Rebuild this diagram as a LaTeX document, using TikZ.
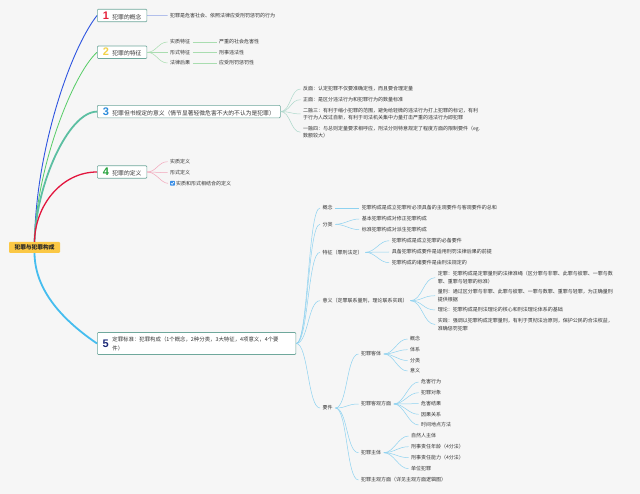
\documentclass[tikz,border=0pt]{standalone}
\usepackage{fontspec}
\newfontfamily\cjk{Noto Sans CJK SC}
\newfontfamily\numf{Liberation Sans}
\definecolor{bgc}{HTML}{F6F6F6}
\definecolor{txt}{HTML}{333333}
\definecolor{boxc}{HTML}{6FA89C}
\definecolor{rootc}{HTML}{FBC845}
\definecolor{b1}{HTML}{2F55E0}
\definecolor{b2}{HTML}{55CC66}
\definecolor{b3}{HTML}{5CBFA2}
\definecolor{b4}{HTML}{E2163E}
\definecolor{b5}{HTML}{45BDEF}
\definecolor{s1}{HTML}{8EA2E6}
\definecolor{s2}{HTML}{A9DDB0}
\definecolor{s3}{HTML}{ADD8CB}
\definecolor{s4}{HTML}{F2A5B9}
\definecolor{s5}{HTML}{8ED2F0}
\definecolor{k1}{HTML}{E6213B}
\definecolor{k2}{HTML}{F2D24A}
\definecolor{k3}{HTML}{2C8CDA}
\definecolor{k4}{HTML}{24A23A}
\definecolor{k5}{HTML}{1C2A78}
\definecolor{chk}{HTML}{3A8EE6}
\newcommand{\bignum}[2]{{\color{#1}\numf\bfseries\fontsize{11}{11}\selectfont #2}\hspace{3.5pt}}
\begin{document}
\begin{tikzpicture}[x=1pt,y=-1pt,
  mainbox/.style={draw=boxc, fill=white, rounded corners=1pt, line width=0.6pt, inner xsep=5.5pt, inner ysep=0pt, minimum height=12.5pt, anchor=west, text=txt, font=\cjk\fontsize{5.8}{7}\selectfont},
  numlab/.style={anchor=west, inner sep=0pt, font=\numf\bfseries\fontsize{11}{11}\selectfont},
  lf/.style={anchor=west, inner xsep=2.5pt, inner ysep=1pt, text=txt, align=left, font=\cjk\fontsize{5}{7.3}\selectfont},
  rootbox/.style={fill=rootc, rounded corners=1pt, minimum width=51pt, minimum height=11pt, inner sep=0pt, text=black!85, font=\cjk\bfseries\fontsize{5.7}{6}\selectfont},
  chkbox/.style={fill=chk, rounded corners=0.5pt, minimum width=4.6pt, minimum height=4.6pt, inner sep=0pt, anchor=west},
  m1/.style={draw=b1, line width=0.9pt},
  m2/.style={draw=b2, line width=0.8pt},
  m3/.style={draw=b3, line width=1.8pt},
  m4/.style={draw=b4, line width=1.3pt},
  m5/.style={draw=b5, line width=1.8pt},
  sub1/.style={draw=s1, line width=0.5pt},
  sub2/.style={draw=s2, line width=0.5pt},
  sub3/.style={draw=s3, line width=0.5pt},
  sub4/.style={draw=s4, line width=0.5pt},
  sub5/.style={draw=s5, line width=0.5pt},
  cv/.style={out=0, in=180, distance=#1},
  cv/.default=10pt
]
\fill[bgc] (0,0) rectangle (640,494);
\useasboundingbox (0,0) rectangle (640,494);

% root
\node[rootbox] (root) at (34.5,247.5) {犯罪与犯罪构成};

% main boxes
\node[mainbox] (n1) at (97,15.5) {\bignum{k1}{1}犯罪的概念};
\node[mainbox] (n2) at (97,52.3) {\bignum{k2}{2}犯罪的特征};
\node[mainbox] (n3) at (97,111.6) {\bignum{k3}{3}犯罪但书规定的意义（情节显著轻微危害不大的不认为是犯罪）};
\node[mainbox, minimum height=22pt] (n5) at (97,343.5) {\hspace{9.6pt}\parbox[c]{178pt}{\fontsize{5.4}{9}\selectfont\raggedright 定罪标准：犯罪构成（1个概念，2种分类，3大特征，4项意义，4个要\\件）}};
\node[numlab, text=k5] (n5num) at ([xshift=5.5pt]n5.west) {5};
\node[mainbox] (n4) at (97,172) {\bignum{k4}{4}犯罪的定义};

% main branches
\draw[m1] (root.north) .. controls (36,150) and (70,50) .. (n1.west);
\draw[m2] (root.north) .. controls (36,170) and (72,75) .. (n2.west);
\draw[m3] (root.north) .. controls (36,185) and (68,112) .. (n3.west);
\draw[m4] (root.north) .. controls (35,205) and (62,172) .. (n4.west);
\draw[m5] (root.south) .. controls (35,295) and (70,325) .. (n5.west);

% section 1
\node[lf] (t1) at (167.5,15.7) {犯罪是危害社会、依照法律应受刑罚惩罚的行为};
\draw[sub1] (n1.east) -- (t1.west);

% section 2
\node[lf] (t2a) at (167.5,42) {实质特征};
\node[lf] (t2b) at (167.5,52.3) {形式特征};
\node[lf] (t2c) at (167.5,63) {法律后果};
\node[lf] (t2a1) at (216.5,42) {严重的社会危害性};
\node[lf] (t2b1) at (216.5,52.3) {刑事违法性};
\node[lf] (t2c1) at (216.5,63) {应受刑罚惩罚性};
\foreach \c in {t2a,t2b,t2c} \draw[sub2] (n2.east) to[cv=9pt] (\c.west);
\draw[sub2] (t2a.east) -- (t2a1.west);
\draw[sub2] (t2b.east) -- (t2b1.west);
\draw[sub2] (t2c.east) -- (t2c1.west);

% section 3
\node[lf] (t3a) at (300.5,89) {反面：认定犯罪不仅要准确定性，而且要合理定量};
\node[lf] (t3b) at (300.5,99.7) {正面：是区分违法行为和犯罪行为的数量标准};
\node[lf] (t3c) at (300.5,113.9) {二融三：有利于缩小犯罪的范围，避免给轻微的违法行为打上犯罪的标记，有利\\于行为人改过自新，有利于司法机关集中力量打击严重的违法行为即犯罪};
\node[lf] (t3d) at (300.5,132.2) {一融四：与总则定量要求相呼应，刑法分则特意规定了程度方面的限制要件（eg.\\数额较大）};
\foreach \c in {t3a,t3b,t3c,t3d} \draw[sub3] (n3.east) to[cv=10pt] (\c.west);

% section 4
\node[lf] (t4a) at (167.5,161.7) {实质定义};
\node[lf] (t4b) at (167.5,172.7) {形式定义};
\node[chkbox] (t4x) at (170,183.3) {};
\draw[white, line width=0.6pt, line cap=round, line join=round] ([shift={(-1.4,0.1)}]t4x.center) -- ([shift={(-0.4,1.1)}]t4x.center) -- ([shift={(1.4,-1.2)}]t4x.center);
\node[lf, inner xsep=1pt] (t4c) at (t4x.east) {实质和形式相结合的定义};
\draw[sub4] (n4.east) to[cv=9pt] (t4a.west);
\draw[sub4] (n4.east) to[cv=9pt] (t4b.west);
\draw[sub4, shorten >=2pt] (n4.east) to[cv=9pt] (t4x.west);

% section 5, level 1
\node[lf] (t5a) at (320,208) {概念};
\node[lf] (t5b) at (320,224.3) {分类};
\node[lf] (t5c) at (320,252.3) {特征（罪刑法定）};
\node[lf] (t5d) at (320,300.7) {意义（定罪联系量刑，理论联系实践）};
\node[lf] (t5e) at (320,408) {要件};
\foreach \c in {t5a,t5b,t5c,t5d,t5e} \draw[sub5] (n5.east) to[cv=12pt] (\c.west);

% 概念
\node[lf] (t5a1) at (359.2,208) {犯罪构成是成立犯罪所必须具备的主观要件与客观要件的总和};
\draw[sub5] (t5a.east) -- (t5a1.west);

% 分类
\node[lf] (t5b1) at (359.2,219) {基本犯罪构成对修正犯罪构成};
\node[lf] (t5b2) at (359.2,229.7) {标准犯罪构成对派生犯罪构成};
\foreach \c in {t5b1,t5b2} \draw[sub5] (t5b.east) to[cv=9pt] (\c.west);

% 特征
\node[lf] (t5c1) at (389.2,240.7) {犯罪构成是成立犯罪的必备要件};
\node[lf] (t5c2) at (389.2,252) {具备犯罪构成要件是适用刑罚法律后果的前提};
\node[lf] (t5c3) at (389.2,262.7) {犯罪构成的诸要件是由刑法规定的};
\foreach \c in {t5c1,t5c2,t5c3} \draw[sub5] (t5c.east) to[cv=10pt] (\c.west);

% 意义
\node[lf] (t5d1) at (435.2,277.6) {定罪：犯罪构成是定罪量刑的法律准绳（区分罪与非罪、此罪与彼罪、一罪与数\\罪、重罪与轻罪的标准）};
\node[lf] (t5d2) at (435.2,295.7) {量刑：通过区分罪与非罪、此罪与彼罪、一罪与数罪、重罪与轻罪，为正确量刑\\提供根据};
\node[lf] (t5d3) at (435.2,310) {理论：犯罪构成是刑法理论的核心和刑法理论体系的基础};
\node[lf] (t5d4) at (435.2,324.5) {实践：强调以犯罪构成定罪量刑，有利于贯彻法治原则，保护公民的合法权益，\\准确惩罚犯罪};
\foreach \c in {t5d1,t5d2,t5d3,t5d4} \draw[sub5] (t5d.east) to[cv=12pt] (\c.west);

% 要件
\node[lf] (t5e1) at (358.5,354) {犯罪客体};
\node[lf] (t5e2) at (358.5,404) {犯罪客观方面};
\node[lf] (t5e3) at (358.5,452.7) {犯罪主体};
\node[lf] (t5e4) at (358.5,480) {犯罪主观方面（详见主观方面逻辑图）};
\foreach \c in {t5e1,t5e2,t5e3,t5e4} \draw[sub5] (t5e.east) to[cv=12pt] (\c.west);

% 犯罪客体
\node[lf] (k1a) at (407.5,339) {概念};
\node[lf] (k1b) at (407.5,349.7) {体系};
\node[lf] (k1c) at (407.5,360.5) {分类};
\node[lf] (k1d) at (407.5,371) {意义};
\foreach \c in {k1a,k1b,k1c,k1d} \draw[sub5] (t5e1.east) to[cv=10pt] (\c.west);

% 犯罪客观方面
\node[lf] (k2a) at (418.5,382) {危害行为};
\node[lf] (k2b) at (418.5,392.7) {犯罪对象};
\node[lf] (k2c) at (418.5,403.7) {危害结果};
\node[lf] (k2d) at (418.5,414.3) {因果关系};
\node[lf] (k2e) at (418.5,425) {时间地点方法};
\foreach \c in {k2a,k2b,k2c,k2d,k2e} \draw[sub5] (t5e2.east) to[cv=10pt] (\c.west);

% 犯罪主体
\node[lf] (k3a) at (408.5,436) {自然人主体};
\node[lf] (k3b) at (408.5,446.7) {刑事责任年龄（4分法）};
\node[lf] (k3c) at (408.5,457.7) {刑事责任能力（4分法）};
\node[lf] (k3d) at (408.5,468.7) {单位犯罪};
\foreach \c in {k3a,k3b,k3c,k3d} \draw[sub5] (t5e3.east) to[cv=10pt] (\c.west);
\end{tikzpicture}
\end{document}
